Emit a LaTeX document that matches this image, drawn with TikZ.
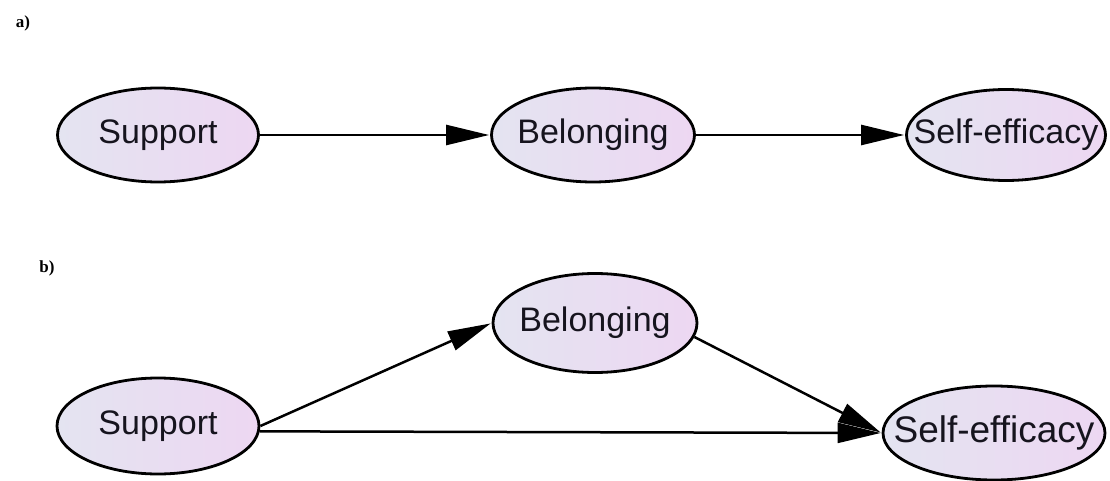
\documentclass[tikz,border=0pt]{standalone}
\usepackage{fontspec}
\setmainfont{Liberation Sans}
\newfontfamily\lblfont{Liberation Serif}
\usetikzlibrary{arrows.meta,shapes.geometric}
\definecolor{fillL}{RGB}{228,228,241}
\definecolor{fillR}{RGB}{237,215,242}
\definecolor{txt}{RGB}{22,20,30}
\tikzset{
  ell/.style={ellipse, draw=black, line width=2.8pt, inner sep=0pt,
    left color=fillL, right color=fillR},
  ltxt/.style={text=txt, font=\fontsize{34}{40}\selectfont, inner sep=0pt},
  ltxtbig/.style={text=txt, font=\fontsize{37}{44}\selectfont, inner sep=0pt},
  conn/.style={line width=2.5pt, -{Triangle[length=43pt,width=20pt]}, shorten >=1pt},
  panel/.style={font=\lblfont\bfseries\fontsize{17}{19}\selectfont, inner sep=0pt}
}
\begin{document}
\begin{tikzpicture}[x=1pt,y=-1pt]
\useasboundingbox (0,0) rectangle (1110,481);
% panel labels
\node[panel] (la) at (23,23) {a)};
\node[panel] (lb) at (47,268) {b)};
% panel a
\node[ell, minimum width=201pt, minimum height=94pt] (sa) at (158,135) {};
\node[ltxt] at (sa) {Support};
\node[ell, minimum width=203pt, minimum height=94pt] (ba) at (593,135) {};
\node[ltxt] at (ba) {Belonging};
\node[ell, minimum width=199pt, minimum height=91pt] (ea) at (1006,135) {};
\node[ltxt] at (ea) {Self-efficacy};
\draw[conn] (sa.east) -- (ba.west);
\draw[conn] (ba.east) -- (ea.west);
% panel b
\node[ell, minimum width=202pt, minimum height=96pt] (sb) at (158,426) {};
\node[ltxt] at (sb) {Support};
\node[ell, minimum width=204pt, minimum height=99pt] (bb) at (595,323) {};
\node[ltxt] at (bb) {Belonging};
\node[ell, minimum width=222pt, minimum height=94pt] (eb) at (994,433) {};
\node[ltxtbig] at (eb) {Self-efficacy};
\draw[conn] (sb.east) -- (bb.west);
\draw[conn] (bb.-8) -- (eb.west);
\draw[conn] (sb.-3) -- (eb.west);
\end{tikzpicture}
\end{document}
